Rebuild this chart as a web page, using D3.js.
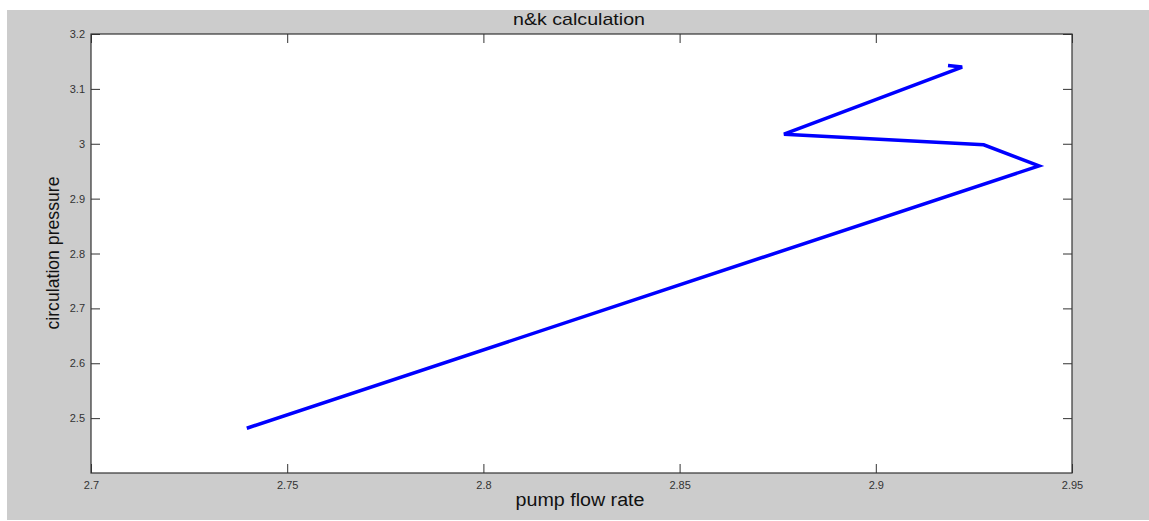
<!DOCTYPE html>
<html><head><meta charset="utf-8">
<script src="https://cdn.jsdelivr.net/npm/d3@7"></script>
<style>body{margin:0;background:#fff;overflow:hidden}text{font-family:Arial,"Liberation Sans",sans-serif}</style>
</head><body>
<svg id="c" width="1149" height="521"></svg>
<script>
const flowRate = [2.7397, 2.9416, 2.9275, 2.8766, 2.9220, 2.9184];
const pressure = [2.4816, 2.9597, 2.9980, 3.0175, 3.1398, 3.1427];
const xTicks = [2.7, 2.75, 2.8, 2.85, 2.9, 2.95];
const yTicks = [2.5, 2.6, 2.7, 2.8, 2.9, 3.0, 3.1, 3.2];
const xDomain = [2.7, 2.95];
const yDomain = [2.4, 3.2];

const svg = d3.select("#c");
svg.append("rect").attr("x",7).attr("y",10).attr("width",1142).attr("height",510).attr("fill","#cccccc");
const L=91, R=1072, T=34, B=473;
const x = d3.scaleLinear().domain(xDomain).range([L,R]);
const y = d3.scaleLinear().domain(yDomain).range([B,T]);
svg.append("rect").attr("x",L).attr("y",T).attr("width",R-L).attr("height",B-T).attr("fill","#fff");

const fmt = d => String(+d.toFixed(2));
const ax = (g, axis) => { g.call(axis); g.select(".domain").remove(); g.selectAll("line").attr("stroke","#333"); g.selectAll("text").attr("fill","#333").attr("font-size","11px"); };
svg.append("g").attr("transform",`translate(0,${B})`).call(g=>ax(g, d3.axisBottom(x).tickValues(xTicks).tickFormat(fmt).tickSizeInner(-9).tickSizeOuter(0).tickPadding(8)));
svg.append("g").attr("transform",`translate(0,${T})`).call(g=>{ax(g, d3.axisTop(x).tickValues(xTicks).tickFormat("").tickSizeInner(-9).tickSizeOuter(0));});
svg.append("g").attr("transform",`translate(${L},0)`).call(g=>ax(g, d3.axisLeft(y).tickValues(yTicks).tickFormat(fmt).tickSizeInner(-9).tickSizeOuter(0).tickPadding(6)));
svg.append("g").attr("transform",`translate(${R},0)`).call(g=>{ax(g, d3.axisRight(y).tickValues(yTicks).tickFormat("").tickSizeInner(-9).tickSizeOuter(0));});
svg.append("rect").attr("x",L).attr("y",T).attr("width",R-L).attr("height",B-T).attr("fill","none").attr("stroke","#333").attr("stroke-width",1.2);

const pts = flowRate.map((v,i)=>[v,pressure[i]]);
svg.append("path").datum(pts).attr("fill","none").attr("stroke","#0000ff").attr("stroke-width",3.5).attr("stroke-linejoin","miter")
  .attr("d", d3.line().x(d=>x(d[0])).y(d=>y(d[1])));

svg.append("text").attr("x",579).attr("y",25).attr("text-anchor","middle").attr("font-size","17px").attr("fill","#111")
  .attr("textLength",132).attr("lengthAdjust","spacingAndGlyphs").text("n&k calculation");
svg.append("text").attr("x",580).attr("y",506).attr("text-anchor","middle").attr("font-size","18px").attr("fill","#111")
  .attr("textLength",129).attr("lengthAdjust","spacingAndGlyphs").text("pump flow rate");
svg.append("text").attr("transform","translate(59,253) rotate(-90)").attr("text-anchor","middle").attr("font-size","18px").attr("fill","#111")
  .attr("textLength",153).attr("lengthAdjust","spacingAndGlyphs").text("circulation pressure");
</script>
</body></html>
